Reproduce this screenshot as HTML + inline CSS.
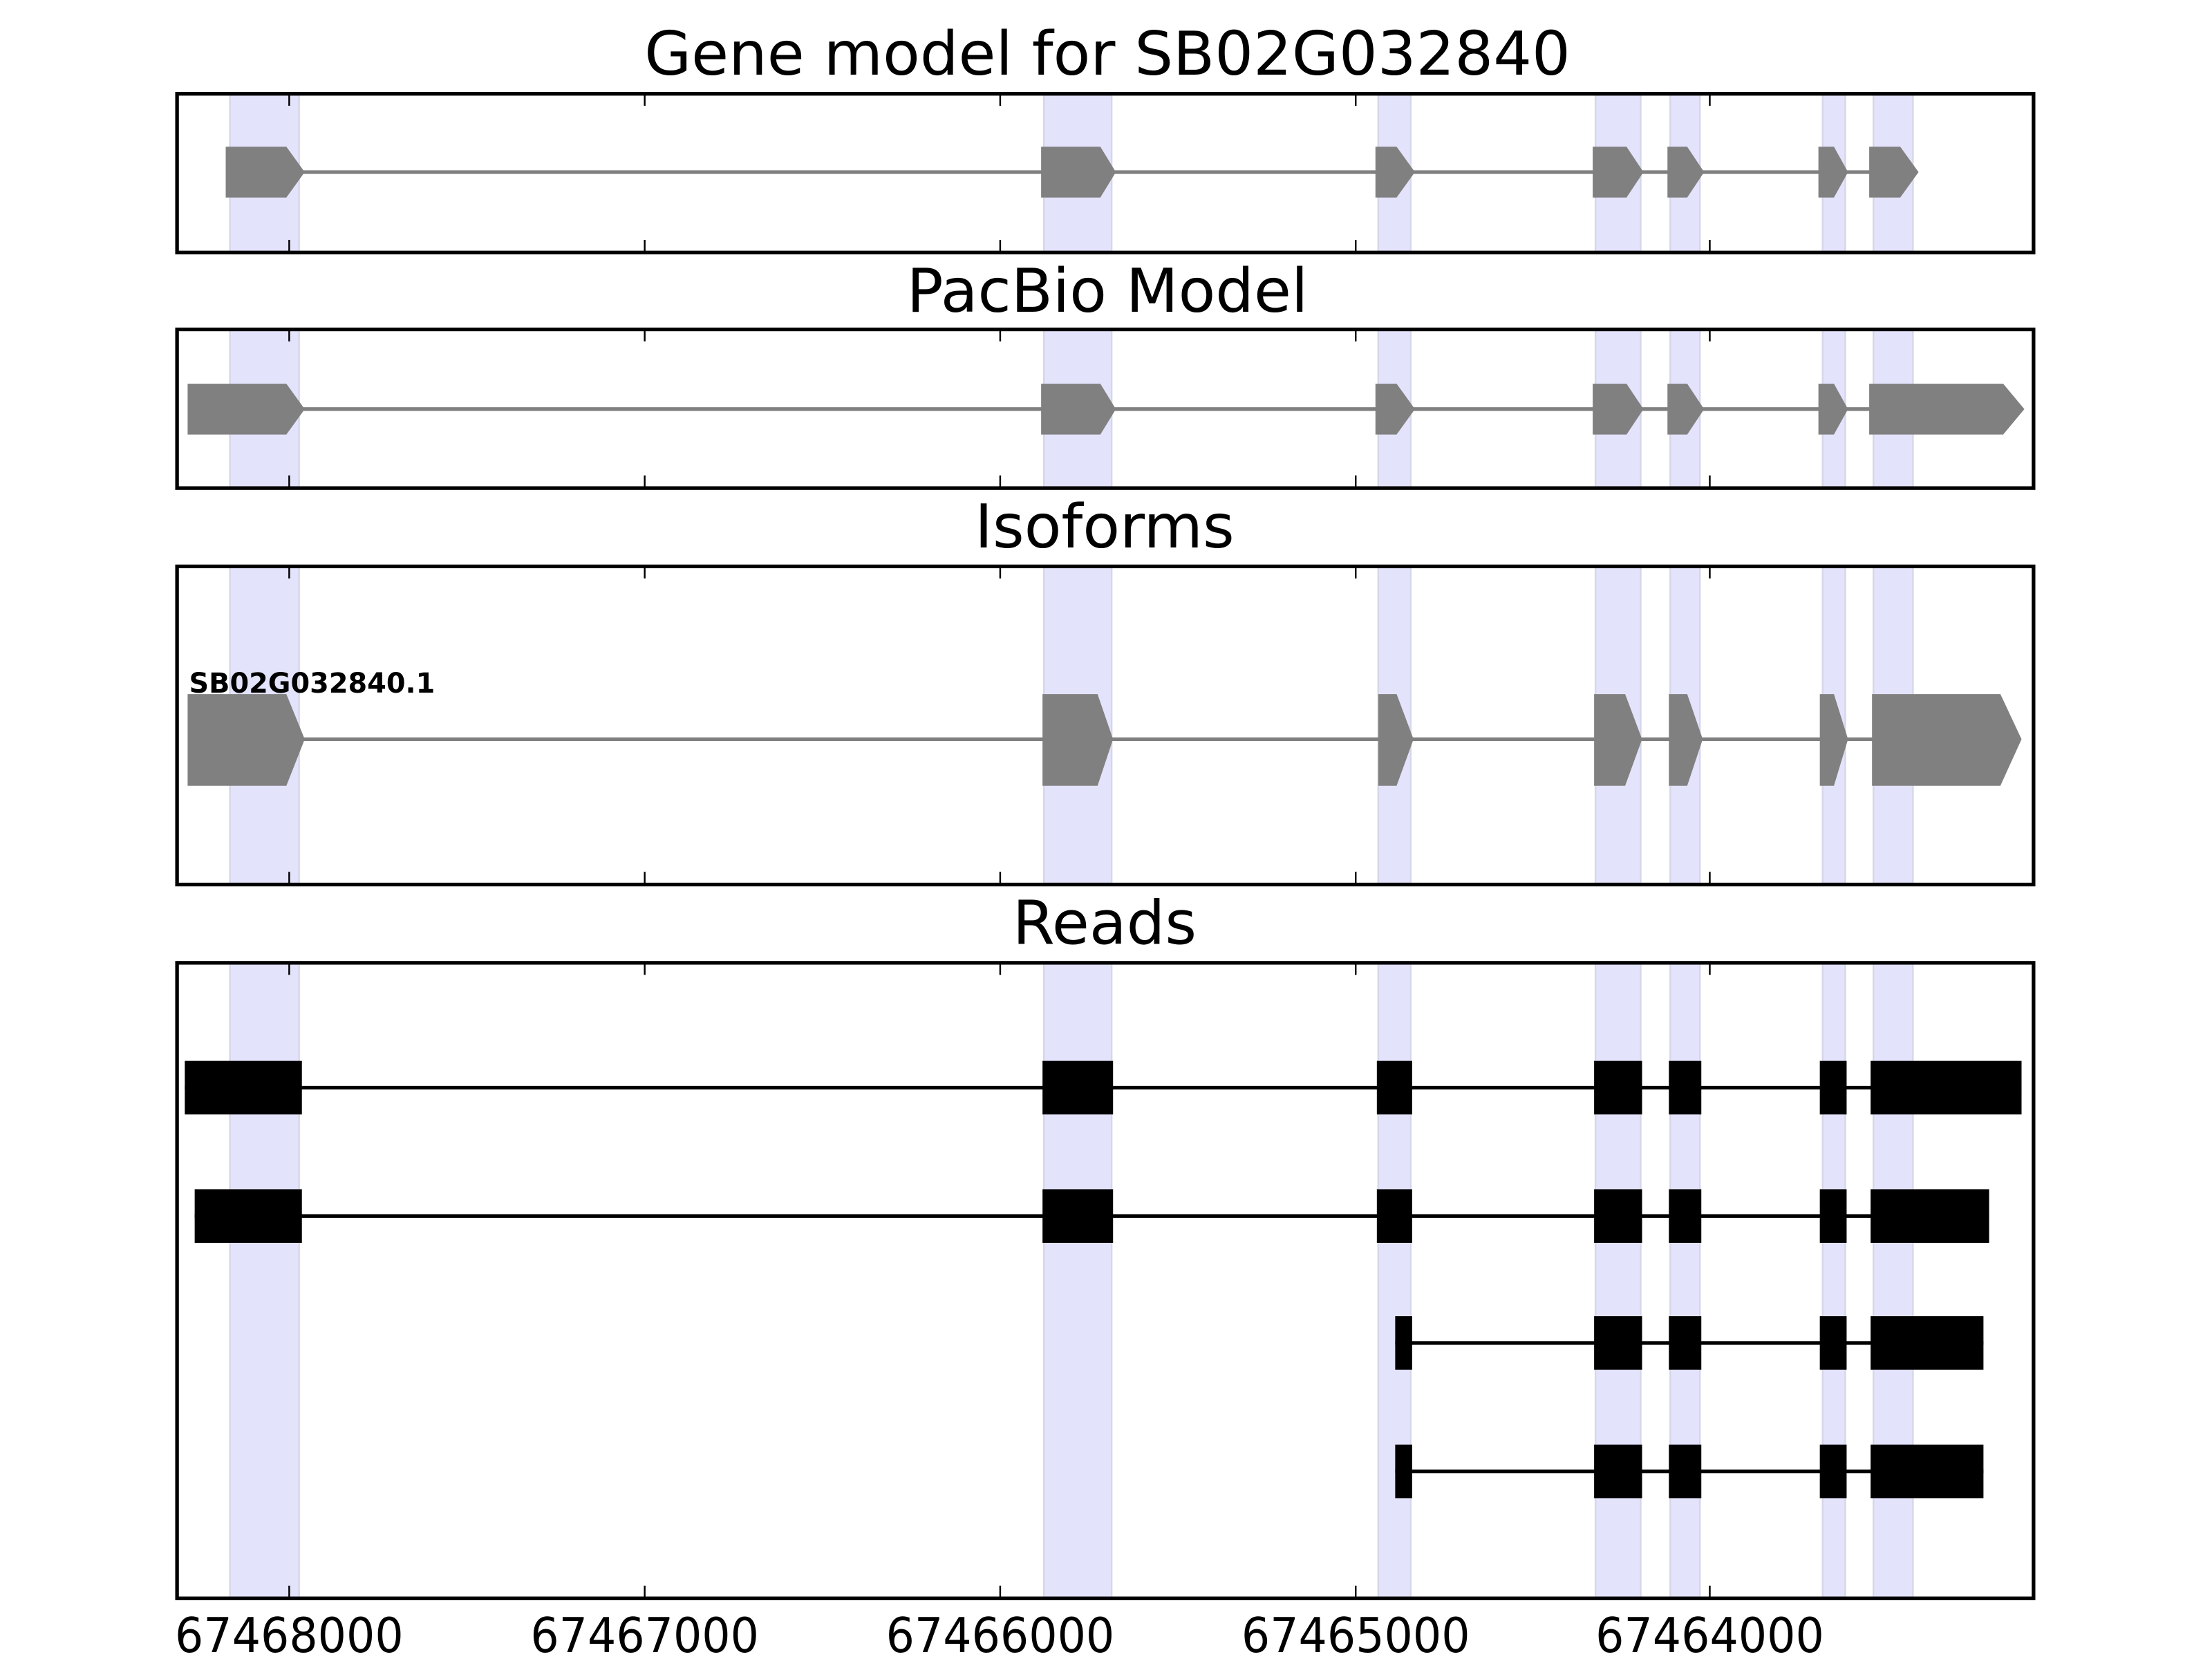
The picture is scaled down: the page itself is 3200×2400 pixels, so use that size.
<!DOCTYPE html>
<html><head><meta charset="utf-8"><style>
html,body{margin:0;padding:0;background:#fff;}
svg{display:block;}
text{font-family:"DejaVu Sans","Liberation Sans",sans-serif;}
</style></head><body>
<svg width="3200" height="2400" viewBox="0 0 1568 1176" xmlns="http://www.w3.org/2000/svg">
<rect width="1568" height="1176" fill="#fff"/>
<text x="785" y="53" font-size="43" text-anchor="middle">Gene model for SB02G032840</text>
<text x="785" y="221" font-size="43" text-anchor="middle">PacBio Model</text>
<text x="783" y="388" font-size="43" text-anchor="middle">Isoforms</text>
<text x="783" y="669" font-size="43" text-anchor="middle">Reads</text>

<g fill="#e3e3fc" stroke="#d6d6ea" stroke-width="1.2">
<rect x="163" y="67" width="49" height="112"/><rect x="740" y="67" width="48" height="112"/><rect x="977" y="67" width="23" height="112"/><rect x="1131" y="67" width="32" height="112"/><rect x="1184" y="67" width="21" height="112"/><rect x="1292" y="67" width="16" height="112"/><rect x="1328" y="67" width="28" height="112"/>
<rect x="163" y="234" width="49" height="112"/><rect x="740" y="234" width="48" height="112"/><rect x="977" y="234" width="23" height="112"/><rect x="1131" y="234" width="32" height="112"/><rect x="1184" y="234" width="21" height="112"/><rect x="1292" y="234" width="16" height="112"/><rect x="1328" y="234" width="28" height="112"/>
<rect x="163" y="402" width="49" height="225"/><rect x="740" y="402" width="48" height="225"/><rect x="977" y="402" width="23" height="225"/><rect x="1131" y="402" width="32" height="225"/><rect x="1184" y="402" width="21" height="225"/><rect x="1292" y="402" width="16" height="225"/><rect x="1328" y="402" width="28" height="225"/>
<rect x="163" y="683" width="49" height="450"/><rect x="740" y="683" width="48" height="450"/><rect x="977" y="683" width="23" height="450"/><rect x="1131" y="683" width="32" height="450"/><rect x="1184" y="683" width="21" height="450"/><rect x="1292" y="683" width="16" height="450"/><rect x="1328" y="683" width="28" height="450"/>
</g>

<g fill="#808080" stroke="none">
<line x1="210" y1="122" x2="1330" y2="122" stroke="#808080" stroke-width="2.6"/>
<polygon points="160,104 203,104 216,122 203,140 160,140"/>
<polygon points="738,104 780,104 791,122 780,140 738,140"/>
<polygon points="975,104 990,104 1003,122 990,140 975,140"/>
<polygon points="1129,104 1153,104 1165,122 1153,140 1129,140"/>
<polygon points="1182,104 1196,104 1208,122 1196,140 1182,140"/>
<polygon points="1289,104 1300,104 1310,122 1300,140 1289,140"/>
<polygon points="1325,104 1347,104 1360,122 1347,140 1325,140"/>

<line x1="210" y1="290" x2="1330" y2="290" stroke="#808080" stroke-width="2.6"/>
<polygon points="133,272 203,272 216,290 203,308 133,308"/>
<polygon points="738,272 780,272 791,290 780,308 738,308"/>
<polygon points="975,272 990,272 1003,290 990,308 975,308"/>
<polygon points="1129,272 1153,272 1165,290 1153,308 1129,308"/>
<polygon points="1182,272 1196,272 1208,290 1196,308 1182,308"/>
<polygon points="1289,272 1300,272 1310,290 1300,308 1289,308"/>
<polygon points="1325,272 1420,272 1435,290 1420,308 1325,308"/>

<line x1="210" y1="524" x2="1330" y2="524" stroke="#808080" stroke-width="2.6"/>
<polygon points="133,492 203,492 216,524 203,557 133,557"/>
<polygon points="739,492 778,492 789,524 778,557 739,557"/>
<polygon points="977,492 990,492 1002,524 990,557 977,557"/>
<polygon points="1130,492 1152,492 1164,524 1152,557 1130,557"/>
<polygon points="1183,492 1196,492 1207,524 1196,557 1183,557"/>
<polygon points="1290,492 1300,492 1310,524 1300,557 1290,557"/>
<polygon points="1327,492 1418,492 1433,524 1418,557 1327,557"/>
</g>
<text x="134" y="491" font-size="19.5" font-weight="bold">SB02G032840.1</text>

<g fill="#000" stroke="none">
<line x1="131" y1="771" x2="1433" y2="771" stroke="#000" stroke-width="2.6"/>
<rect x="131" y="752" width="83" height="38"/><rect x="739" y="752" width="50" height="38"/><rect x="976" y="752" width="25" height="38"/><rect x="1130" y="752" width="34" height="38"/><rect x="1183" y="752" width="23" height="38"/><rect x="1290" y="752" width="19" height="38"/><rect x="1326" y="752" width="107" height="38"/>

<line x1="138" y1="862" x2="1410" y2="862" stroke="#000" stroke-width="2.6"/>
<rect x="138" y="843" width="76" height="38"/><rect x="739" y="843" width="50" height="38"/><rect x="976" y="843" width="25" height="38"/><rect x="1130" y="843" width="34" height="38"/><rect x="1183" y="843" width="23" height="38"/><rect x="1290" y="843" width="19" height="38"/><rect x="1326" y="843" width="84" height="38"/>

<line x1="989" y1="952" x2="1406" y2="952" stroke="#000" stroke-width="2.6"/>
<rect x="989" y="933" width="12" height="38"/><rect x="1130" y="933" width="34" height="38"/><rect x="1183" y="933" width="23" height="38"/><rect x="1290" y="933" width="19" height="38"/><rect x="1326" y="933" width="80" height="38"/>

<line x1="989" y1="1043" x2="1406" y2="1043" stroke="#000" stroke-width="2.6"/>
<rect x="989" y="1024" width="12" height="38"/><rect x="1130" y="1024" width="34" height="38"/><rect x="1183" y="1024" width="23" height="38"/><rect x="1290" y="1024" width="19" height="38"/><rect x="1326" y="1024" width="80" height="38"/>
</g>

<g fill="none" stroke="#000" stroke-width="2.6">
<rect x="125.5" y="66.5" width="1316" height="112.5"/>
<rect x="125.5" y="233.5" width="1316" height="112.5"/>
<rect x="125.5" y="401.5" width="1316" height="225.5"/>
<rect x="125.5" y="682.5" width="1316" height="450.5"/>
</g>
<g stroke="#000" stroke-width="1.2">
<path d="M205 67v8M457 67v8M709 67v8M961 67v8M1212 67v8 M205 178v-8M457 178v-8M709 178v-8M961 178v-8M1212 178v-8"/>
<path d="M205 234v8M457 234v8M709 234v8M961 234v8M1212 234v8 M205 345v-8M457 345v-8M709 345v-8M961 345v-8M1212 345v-8"/>
<path d="M205 402v8M457 402v8M709 402v8M961 402v8M1212 402v8 M205 626v-8M457 626v-8M709 626v-8M961 626v-8M1212 626v-8"/>
<path d="M205 683v8M457 683v8M709 683v8M961 683v8M1212 683v8 M205 1132v-8M457 1132v-8M709 1132v-8M961 1132v-8M1212 1132v-8"/>
</g>
<g font-size="34" text-anchor="middle">
<text x="205" y="1171" textLength="162" lengthAdjust="spacingAndGlyphs">67468000</text>
<text x="457" y="1171" textLength="162" lengthAdjust="spacingAndGlyphs">67467000</text>
<text x="709" y="1171" textLength="162" lengthAdjust="spacingAndGlyphs">67466000</text>
<text x="961" y="1171" textLength="162" lengthAdjust="spacingAndGlyphs">67465000</text>
<text x="1212" y="1171" textLength="162" lengthAdjust="spacingAndGlyphs">67464000</text>
</g>
</svg>
</body></html>
